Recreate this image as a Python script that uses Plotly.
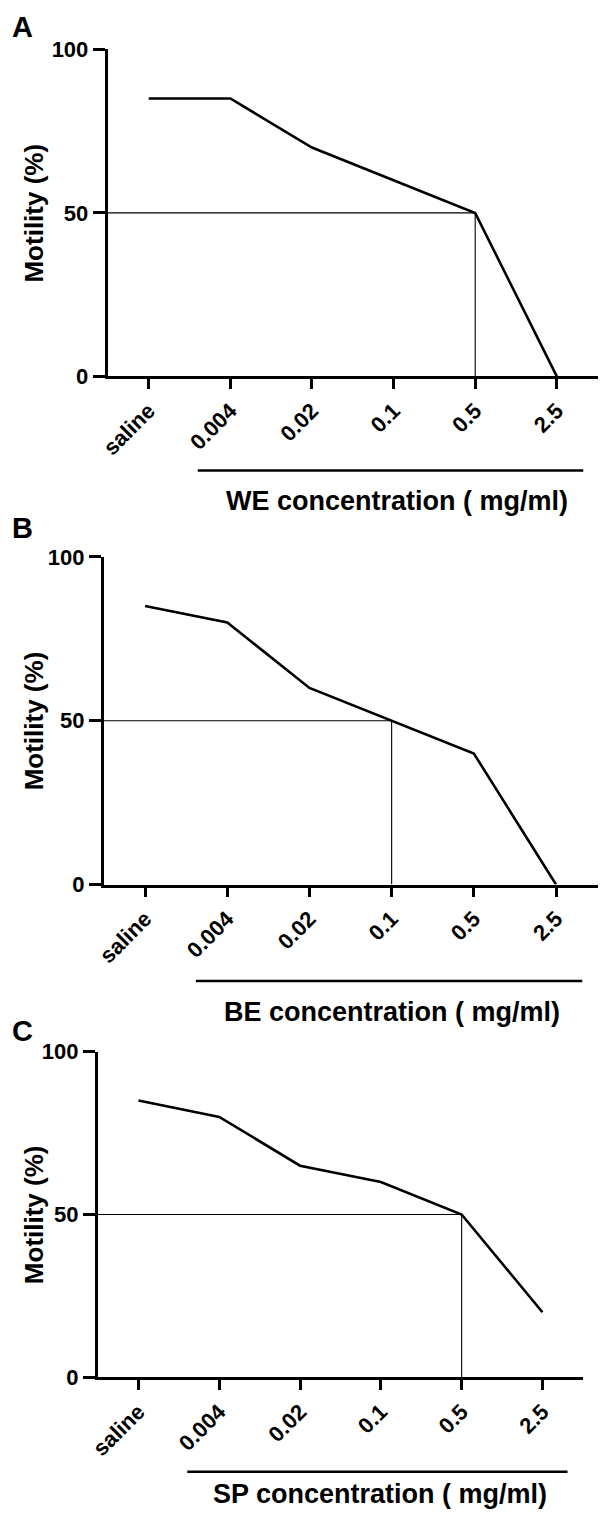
import plotly.graph_objects as go

# ---- data ----
categories = ["saline", "0.004", "0.02", "0.1", "0.5", "2.5"]
motility_we = [85, 85, 70, 60, 50, 0]
motility_be = [85, 80, 60, 50, 40, 0]
motility_sp = [85, 80, 65, 60, 50, 20]
ic50_we = "0.5"
ic50_be = "0.1"
ic50_sp = "0.5"
x_titles = ["WE concentration ( mg/ml)", "BE concentration ( mg/ml)", "SP concentration ( mg/ml)"]
panel_letters = ["A", "B", "C"]
y_ticks = [0, 50, 100]
y_title = "Motility (%)"

W, H = 600, 1531
FONT = "Liberation Sans, Arial, sans-serif"

# pixel layout of each panel: (x_left, x_right, y_top(100), y_bottom(0))
panels = [
    dict(vals=motility_we, ic50=ic50_we, px=(100, 598), py=(38, 370.5),
         uline=(191.6, 583, 466), title_xy=(393.5, 497), letter_xy=(14, 15)),
    dict(vals=motility_be, ic50=ic50_be, px=(96, 597.5), py=(554, 887),
         uline=(189.7, 582, 985), title_xy=(389, 1017), letter_xy=(14, 525)),
    dict(vals=motility_sp, ic50=ic50_sp, px=(90, 583), py=(1057, 1388),
         uline=(181, 567, 1484), title_xy=(377, 1507), letter_xy=(14, 1036)),
]

fig = go.Figure()
pos = list(range(len(categories)))
xr = [-0.505, len(categories) - 1 + 0.505]

def px2x(p):
    return p / W

def px2y(p):
    return 1 - p / H

shapes = []
annotations = []
for i, p in enumerate(panels):
    n = "" if i == 0 else str(i + 1)
    xa, ya = "x" + n, "y" + n
    fig.add_trace(go.Scatter(
        x=pos, y=p["vals"], mode="lines",
        line=dict(color="black", width=2.6),
        xaxis=xa, yaxis=ya, showlegend=False, hoverinfo="skip",
    ))
    ic = categories.index(p["ic50"])
    # reference lines at 50 %
    fig.add_trace(go.Scatter(
        x=[xr[0], ic, ic], y=[50, 50, 0], mode="lines",
        line=dict(color="black", width=1.1),
        xaxis=xa, yaxis=ya, showlegend=False, hoverinfo="skip",
    ))
    axis_common = dict(
        showgrid=False, zeroline=False, showline=True, linecolor="black",
        linewidth=2.5, ticks="outside", tickcolor="black", tickwidth=2.5,
    )
    fig.layout["xaxis" + n] = dict(
        axis_common, domain=[px2x(p["px"][0]), px2x(p["px"][1])],
        range=xr, tickvals=pos, ticktext=categories, tickangle=-45,
        ticklen=10, anchor=ya,
        tickfont=dict(family=FONT, size=22, color="black", weight="bold"),
    )
    fig.layout["yaxis" + n] = dict(
        axis_common, domain=[px2y(p["py"][1]), px2y(p["py"][0])],
        range=[0, 100], tickvals=y_ticks, ticklen=12, anchor=xa,
        tickfont=dict(family=FONT, size=22, color="black", weight="bold"),
    )
    # underline
    x0, x1, yy = p["uline"]
    shapes.append(dict(type="line", xref="paper", yref="paper",
                       x0=px2x(x0), x1=px2x(x1), y0=px2y(yy), y1=px2y(yy),
                       line=dict(color="black", width=2.5)))
    tx, ty = p["title_xy"]
    annotations.append(dict(text="<b>" + x_titles[i] + "</b>", xref="paper", yref="paper",
                            x=px2x(tx), y=px2y(ty), showarrow=False,
                            xanchor="center", yanchor="middle",
                            font=dict(family=FONT, size=27, color="black")))
    lx, ly = p["letter_xy"]
    annotations.append(dict(text="<b>" + panel_letters[i] + "</b>", xref="paper", yref="paper",
                            x=px2x(lx), y=px2y(ly), showarrow=False,
                            xanchor="center", yanchor="middle",
                            font=dict(family=FONT, size=29, color="black")))
    annotations.append(dict(text="<b>" + y_title + "</b>", xref="paper", yref="paper",
                            x=px2x(25), y=px2y((p["py"][0] + p["py"][1]) / 2),
                            showarrow=False, textangle=-90,
                            xanchor="center", yanchor="middle",
                            font=dict(family=FONT, size=26, color="black")))

fig.update_layout(
    width=W, height=H, margin=dict(l=0, r=0, t=0, b=0),
    paper_bgcolor="white", plot_bgcolor="white",
    shapes=shapes, annotations=annotations, showlegend=False,
)
fig.write_html("out.html", config={"displayModeBar": False},
               post_script="document.body.style.margin='0';")
